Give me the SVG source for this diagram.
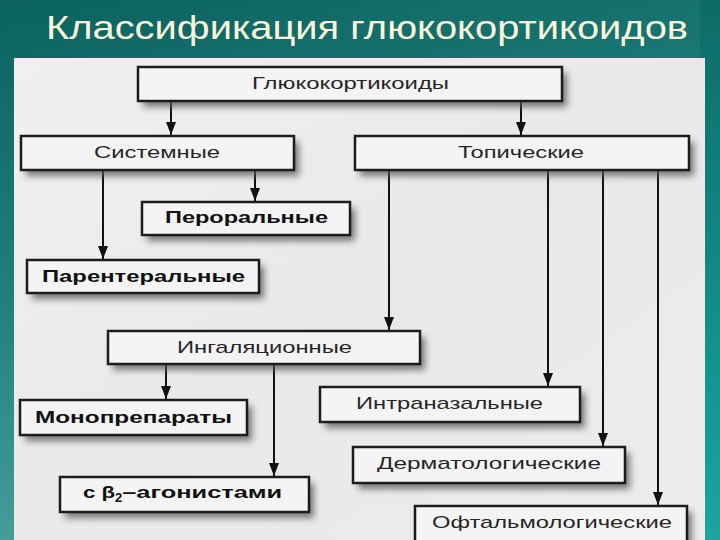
<svg xmlns="http://www.w3.org/2000/svg" width="720" height="540" viewBox="0 0 720 540">
<defs>
<linearGradient id="bg" x1="0" y1="0" x2="0.3" y2="1">
<stop offset="0" stop-color="#0b625f"/>
<stop offset="0.5" stop-color="#207f7b"/>
<stop offset="1" stop-color="#4aa39d"/>
</linearGradient>
<linearGradient id="rbg" x1="0" y1="0" x2="0" y2="1">
<stop offset="0" stop-color="#0d6b67"/>
<stop offset="0.6" stop-color="#138f89"/>
<stop offset="1" stop-color="#1aa59e"/>
</linearGradient>
<linearGradient id="panel" x1="0" y1="0" x2="1" y2="1">
<stop offset="0" stop-color="#f0f0f0"/>
<stop offset="0.5" stop-color="#e9e9e9"/>
<stop offset="1" stop-color="#ececec"/>
</linearGradient>
<filter id="sh" x="-20%" y="-40%" width="140%" height="200%">
<feGaussianBlur stdDeviation="3.5"/>
</filter>
<marker id="ah" viewBox="0 0 13 10" refX="13" refY="5" markerWidth="13" markerHeight="10" markerUnits="userSpaceOnUse" orient="auto">
<path d="M0,0 L13,5 L0,10 Z" fill="#111"/>
</marker>
<style>
.box{fill:#f4f4f4;stroke:#1c1c1c;stroke-width:2.5}
.shadow{fill:#5a5a5a;opacity:0.8;filter:url(#sh)}
.t{font-family:"Liberation Sans",Arial,sans-serif;font-size:17px;fill:#262626;text-anchor:start}
.b{font-weight:bold;fill:#111}
.ln{stroke:#111;stroke-width:2;fill:none}
.arr{stroke:#111;stroke-width:2;fill:none;marker-end:url(#ah)}
.title{font-family:"Liberation Sans",Arial,sans-serif;font-size:33px;fill:#fbf7dc}
</style>
</defs>
<rect x="0" y="0" width="720" height="540" fill="url(#bg)"/>
<rect x="700" y="0" width="20" height="540" fill="url(#rbg)"/>
<text class="title" x="46" y="39" textLength="642" lengthAdjust="spacingAndGlyphs">Классификация глюкокортикоидов</text>
<rect x="14" y="58" width="691" height="482" fill="url(#panel)"/>

<g id="connectors">
<line class="arr" x1="171" y1="101" x2="171" y2="135"/>
<line class="arr" x1="521" y1="101" x2="521" y2="135"/>
<line class="arr" x1="255" y1="170" x2="255" y2="201"/>
<line class="arr" x1="103" y1="170" x2="103" y2="259"/>
<line class="arr" x1="389" y1="170" x2="389" y2="330"/>
<line class="arr" x1="548" y1="170" x2="548" y2="386"/>
<line class="arr" x1="603" y1="170" x2="603" y2="446"/>
<line class="arr" x1="658" y1="170" x2="658" y2="505"/>
<line class="arr" x1="166" y1="364" x2="166" y2="399"/>
<line class="arr" x1="274" y1="364" x2="274" y2="476"/>
</g>

<g id="glucocorticoids">
<rect class="shadow" x="143" y="73" width="424" height="34"/>
<rect class="box" x="138" y="67" width="424" height="34"/>
<text class="t" x="252" y="89" textLength="197" lengthAdjust="spacingAndGlyphs">Глюкокортикоиды</text>
</g>
<g id="systemic">
<rect class="shadow" x="26" y="142" width="273" height="34"/>
<rect class="box" x="21" y="136" width="273" height="34"/>
<text class="t" x="94" y="158" textLength="126" lengthAdjust="spacingAndGlyphs">Системные</text>
</g>
<g id="topical">
<rect class="shadow" x="360" y="142" width="334" height="34"/>
<rect class="box" x="355" y="136" width="334" height="34"/>
<text class="t" x="458" y="158" textLength="126" lengthAdjust="spacingAndGlyphs">Топические</text>
</g>
<g id="oral">
<rect class="shadow" x="147" y="208" width="208" height="33"/>
<rect class="box" x="142" y="202" width="208" height="33"/>
<text class="t b" x="165" y="223" textLength="163" lengthAdjust="spacingAndGlyphs">Пероральные</text>
</g>
<g id="parenteral">
<rect class="shadow" x="32" y="266" width="232" height="33"/>
<rect class="box" x="27" y="260" width="232" height="33"/>
<text class="t b" x="42" y="282" textLength="203" lengthAdjust="spacingAndGlyphs">Парентеральные</text>
</g>
<g id="inhaled">
<rect class="shadow" x="113" y="337" width="312" height="33"/>
<rect class="box" x="108" y="331" width="312" height="33"/>
<text class="t" x="177" y="353" textLength="175" lengthAdjust="spacingAndGlyphs">Ингаляционные</text>
</g>
<g id="mono">
<rect class="shadow" x="25" y="406" width="227" height="35"/>
<rect class="box" x="20" y="400" width="227" height="35"/>
<text class="t b" x="35" y="423" textLength="197" lengthAdjust="spacingAndGlyphs">Монопрепараты</text>
</g>
<g id="beta2">
<rect class="shadow" x="65" y="483" width="249" height="35"/>
<rect class="box" x="60" y="477" width="249" height="35"/>
<text class="t b" x="83" y="498"><tspan textLength="32" lengthAdjust="spacingAndGlyphs">с β</tspan><tspan font-size="13" dy="4">2</tspan><tspan dy="-4" textLength="160" lengthAdjust="spacingAndGlyphs">–агонистами</tspan></text>
</g>
<g id="intranasal">
<rect class="shadow" x="325" y="393" width="260" height="35"/>
<rect class="box" x="320" y="387" width="260" height="35"/>
<text class="t" x="356" y="409" textLength="187" lengthAdjust="spacingAndGlyphs">Интраназальные</text>
</g>
<g id="dermatological">
<rect class="shadow" x="358" y="453" width="272" height="36"/>
<rect class="box" x="353" y="447" width="272" height="36"/>
<text class="t" x="377" y="469" textLength="224" lengthAdjust="spacingAndGlyphs">Дерматологические</text>
</g>
<g id="ophthalmological">
<rect class="shadow" x="420" y="512" width="272" height="36"/>
<rect class="box" x="415" y="506" width="272" height="36"/>
<text class="t" x="432" y="528" textLength="240" lengthAdjust="spacingAndGlyphs">Офтальмологические</text>
</g>
</svg>
